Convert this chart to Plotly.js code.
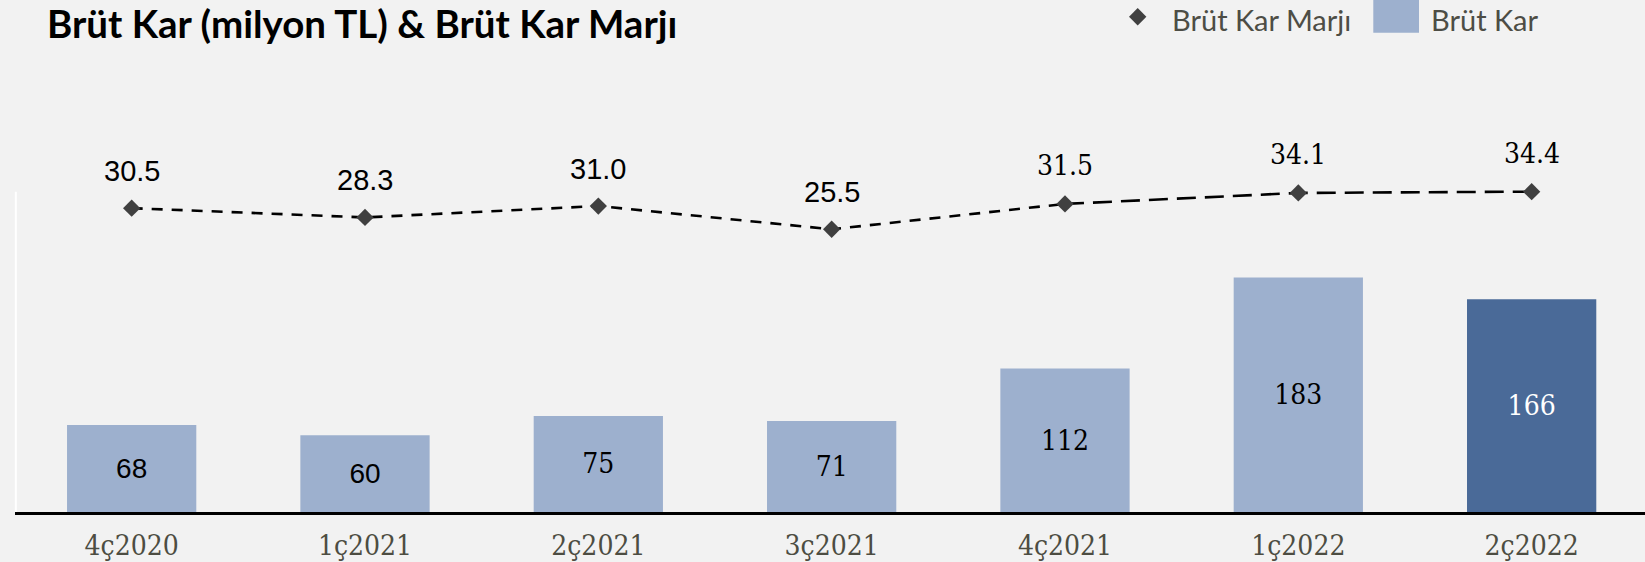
<!DOCTYPE html>
<html>
<head>
<meta charset="utf-8">
<script src="https://cdn.plot.ly/plotly-3.0.1.min.js"></script>
<style>
  html, body { margin: 0; padding: 0; background: #f2f2f2; }
  #chart { width: 1645px; height: 562px; }
</style>
</head>
<body>
<div id="chart"></div>
<script>
// ---- data ----
const categories = ["4ç2020", "1ç2021", "2ç2021", "3ç2021", "4ç2021", "1ç2022", "2ç2022"];
const grossProfit = [68, 60, 75, 71, 112, 183, 166];          // Brüt Kar (milyon TL)
const grossMargin = [30.5, 28.3, 31.0, 25.5, 31.5, 34.1, 34.4]; // Brüt Kar Marjı (%)
const seriesNames = ["Brüt Kar Marjı", "Brüt Kar"];
const titleText = "Brüt Kar (milyon TL) & Brüt Kar Marjı";

// ---- styles ----
const W = 1645, H = 562;
const M = { l: 15, r: 0, t: 100, b: 50 };
const PW = W - M.l - M.r, PH = H - M.t - M.b;
const px2x = p => (p - M.l) / PW;
const px2y = p => (H - M.b - p) / PH;

const lightBar = "#9db0ce", darkBar = "#4a6a98";
const barColors = grossProfit.map((v, i) => i === grossProfit.length - 1 ? darkBar : lightBar);
const barTextColors = grossProfit.map((v, i) => i === grossProfit.length - 1 ? "#ffffff" : "#000000");
const SANS = "Liberation Sans, Arial, sans-serif";
const SERIF = "DejaVu Serif Condensed, DejaVu Serif, serif";
const barFonts = [SANS, SANS, SERIF, SERIF, SERIF, SERIF, SERIF];
const lineFonts = [SANS, SANS, SANS, SANS, SERIF, SERIF, SERIF];

const split = 4; // style changes from short dash to long dash at 4ç2021

const traces = [
  {
    type: "bar", name: seriesNames[1], x: categories, y: grossProfit,
    marker: { color: barColors }, width: 0.554,
    text: grossProfit.map(String), textposition: "inside", insidetextanchor: "middle",
    textangle: 0, constraintext: "none",
    textfont: { family: barFonts, size: 28, color: barTextColors },
    showlegend: false, hoverinfo: "x+y"
  },
  {
    type: "scatter", mode: "lines", yaxis: "y2",
    x: categories.slice(0, split + 1), y: grossMargin.slice(0, split + 1),
    line: { color: "#000000", width: 2.6, dash: "11px,9px" },
    showlegend: false, hoverinfo: "skip"
  },
  {
    type: "scatter", mode: "lines", yaxis: "y2",
    x: categories.slice(split), y: grossMargin.slice(split),
    line: { color: "#000000", width: 2.6, dash: "19px,9px" },
    showlegend: false, hoverinfo: "skip"
  },
  {
    type: "scatter", mode: "markers", name: seriesNames[0], yaxis: "y2",
    x: categories, y: grossMargin,
    marker: { symbol: "diamond", size: 13.3, color: "#404040" },
    cliponaxis: false, showlegend: false
  }
];

const lineLabels = categories.map((c, i) => ({
  x: c, y: grossMargin[i], xref: "x", yref: "y2",
  text: grossMargin[i].toFixed(1), showarrow: false,
  yanchor: "middle", xanchor: "center", yshift: lineFonts[i] === SERIF ? 38.5 : 37.5,
  font: { family: lineFonts[i], size: lineFonts[i] === SERIF ? 28 : 29, color: "#000000" }
}));

// custom legend (decoration)
const dcx = 1137.7, dcy = 16.7, dr = 8.7;
const diamondPath = `M${px2x(dcx)},${px2y(dcy - dr)} L${px2x(dcx + dr)},${px2y(dcy)} L${px2x(dcx)},${px2y(dcy + dr)} L${px2x(dcx - dr)},${px2y(dcy)} Z`;

const legendTexts = [
  { x: px2x(1170), y: px2y(19.5), xref: "paper", yref: "paper", text: seriesNames[0],
    showarrow: false, xanchor: "left", yanchor: "middle",
    font: { family: "Lato, Open Sans, sans-serif", size: 29, color: "#4d4d45" } },
  { x: px2x(1428.5), y: px2y(19.5), xref: "paper", yref: "paper", text: seriesNames[1],
    showarrow: false, xanchor: "left", yanchor: "middle",
    font: { family: "Lato, Open Sans, sans-serif", size: 29, color: "#4d4d45" } }
];

const layout = {
  width: W, height: H,
  paper_bgcolor: "#f2f2f2", plot_bgcolor: "#f2f2f2",
  margin: M,
  showlegend: false,
  bargap: 0.446,
  title: {
    text: titleText,
    x: 47 / W, xref: "container", xanchor: "left",
    y: 1 - 25 / H, yref: "container", yanchor: "middle",
    font: { family: "Lato, Open Sans, sans-serif", size: 38.5, weight: "bold", color: "#000000" }
  },
  xaxis: {
    type: "category", range: [-0.5, -0.5 + PW / 233.33],
    showline: true, linecolor: "#000000", linewidth: 2.5,
    showgrid: false, zeroline: false, ticks: "",
    tickfont: { family: SERIF, size: 28, color: "#4d4d42" },
    ticklabelstandoff: 7, fixedrange: true
  },
  yaxis: {
    range: [0, PH / 1.281], visible: false, showgrid: false, zeroline: false, fixedrange: true
  },
  yaxis2: {
    overlaying: "y", side: "right",
    range: [(337 - (H - M.b)) / 4.225, (337 - M.t) / 4.225],
    visible: false, showgrid: false, zeroline: false, fixedrange: true
  },
  shapes: [
    { type: "line", xref: "paper", yref: "paper", x0: px2x(15.8), x1: px2x(15.8),
      y0: 0, y1: px2y(191.7), line: { color: "#ffffff", width: 2 }, layer: "below" },
    { type: "path", xref: "paper", yref: "paper", path: diamondPath,
      fillcolor: "#404040", line: { width: 0 } },
    { type: "rect", xref: "paper", yref: "paper",
      x0: px2x(1373.3), x1: px2x(1419), y0: px2y(0), y1: px2y(32.7),
      fillcolor: lightBar, line: { width: 0 } }
  ],
  annotations: lineLabels.concat(legendTexts)
};

Plotly.newPlot("chart", traces, layout, { displayModeBar: false, staticPlot: true });
</script>
</body>
</html>
